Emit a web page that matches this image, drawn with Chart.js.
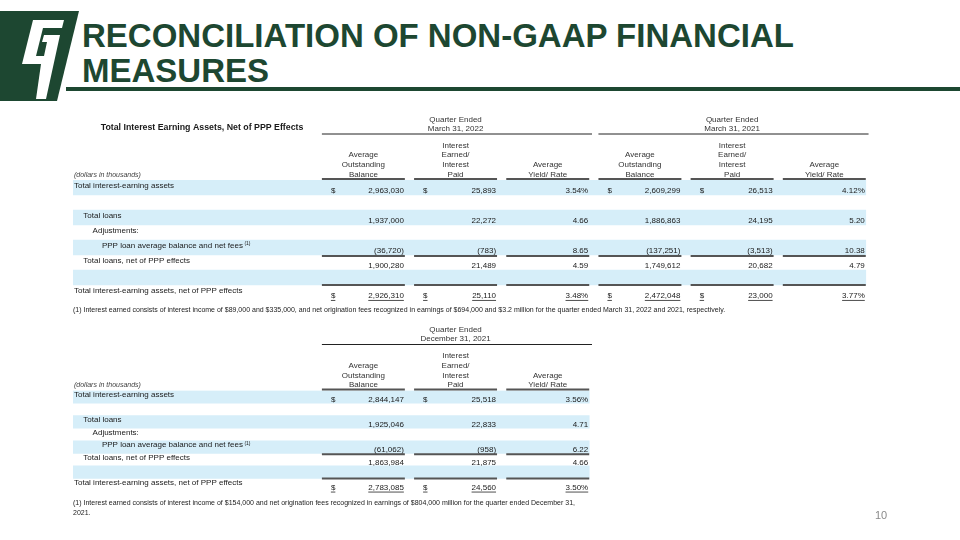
<!DOCTYPE html>
<html>
<head>
<meta charset="utf-8">
<script src="https://cdn.jsdelivr.net/npm/chart.js@4.4.1/dist/chart.umd.min.js"></script>
<style>
  body { margin: 0; width: 960px; height: 540px; background: #fff; position: relative; overflow: hidden;
         font-family: "Liberation Sans", Arial, sans-serif; }
  #logo { position: absolute; left: 0; top: 0; }
  h1 { position: absolute; left: 82px; top: 17.7px; margin: 0; font-size: 33px; line-height: 35px;
       color: #1d4731; font-weight: bold; white-space: nowrap; }
  #rule { position: absolute; left: 66px; top: 87px; width: 894px; height: 4px; background: #1d4731; }
  .box { position: absolute; left: 0; width: 960px; }
  .note { position: absolute; left: 73px; font-size: 7px; line-height: 10px; color: #222; white-space: nowrap; }
  #page { position: absolute; left: 875px; top: 509px; font-size: 11px; color: #8a8a8a; }
</style>
</head>
<body>
<svg id="logo" width="82" height="104" viewBox="0 0 82 104">
  <polygon points="0,11 79,11 57,101 0,101" fill="#1d4731"/>
  <path d="M33 20 L64 20 L62 28 L43 28 L36 56 L44 56 L47 42 L42 42 L44 35 L60 35 L46 99 L36 99 L41 64 L22 64 Z" fill="#fff"/>
</svg>
<h1>RECONCILIATION OF NON-GAAP FINANCIAL<br>MEASURES</h1>
<div id="rule"></div>

<div class="box" style="top:100px;height:210px"><canvas id="topTable" width="960" height="210"></canvas></div>
<div class="note" style="top:305px">(1) Interest earned consists of interest income of $89,000 and $335,000, and net origination fees recognized in earnings of $694,000 and $3.2 million for the quarter ended March 31, 2022 and 2021, respectively.</div>

<div class="box" style="top:310px;height:190px"><canvas id="bottomTable" width="960" height="190"></canvas></div>
<div class="note" style="top:498px">(1) Interest earned consists of interest income of $154,000 and net origination fees recognized in earnings of $804,000 million for the quarter ended December 31,<br>2021.</div>
<div id="page">10</div>

<script>
// rows of both tables (blank strings are the spacer rows)
const rowLabels = [
  'Total interest-earning assets',
  '',
  'Total loans',
  'Adjustments:',
  'PPP loan average balance and net fees',
  'Total loans, net of PPP effects',
  '',
  'Total interest-earning assets, net of PPP effects'
];
const shadedRows = [0, 2, 4, 6];
const totalRows = [0, 7];          // rows with $ and %
const footnoteRow = 4;

// Quarter ended March 31, 2022
const mar22Balance  = [2963030, null, 1937000, null, -36720, 1900280, null, 2926310];
const mar22Interest = [25893, null, 22272, null, -783, 21489, null, 25110];
const mar22Yield    = [3.54, null, 4.66, null, 8.65, 4.59, null, 3.48];
// Quarter ended March 31, 2021
const mar21Balance  = [2609299, null, 1886863, null, -137251, 1749612, null, 2472048];
const mar21Interest = [26513, null, 24195, null, -3513, 20682, null, 23000];
const mar21Yield    = [4.12, null, 5.20, null, 10.38, 4.79, null, 3.77];
// Quarter ended December 31, 2021
const dec21Balance  = [2844147, null, 1925046, null, -61062, 1863984, null, 2783085];
const dec21Interest = [25518, null, 22833, null, -958, 21875, null, 24560];
const dec21Yield    = [3.56, null, 4.71, null, 6.22, 4.66, null, 3.50];

const balanceHead  = ['Average', 'Outstanding', 'Balance'];
const interestHead = ['Interest', 'Earned/', 'Interest', 'Paid'];
const yieldHead    = ['Average', 'Yield/ Rate'];

// layout in column units on the x scale (label area is negative)
const X_MIN = -2.7, X_MAX = 6, COL_W = 0.9;
const indentLevel = [0, 0, 1, 2, 3, 1, 0, 0];
const FONT = '"Liberation Sans", Arial, sans-serif';

function fmt(v, kind, row) {
  if (v === null) return '';
  let s = kind === 'yield' ? Math.abs(v).toFixed(2) : Math.abs(v).toLocaleString('en-US');
  if (kind === 'yield' && totalRows.includes(row)) s += '%';
  return v < 0 ? '(' + s + ')' : s;
}

function hline(ctx, x1, x2, y, w, color) {
  ctx.beginPath();
  ctx.lineWidth = w;
  ctx.strokeStyle = color;
  ctx.moveTo(x1, y);
  ctx.lineTo(x2, y);
  ctx.stroke();
}

const tablePlugin = {
  id: 'tableText',
  afterDatasetsDraw(chart) {
    const t = chart.options.plugins.tableText;
    const { ctx, chartArea } = chart;
    const x = chart.scales.x, y = chart.scales.y;
    const rowH = y.getPixelForValue(1) - y.getPixelForValue(0);
    const top = chartArea.top;
    const rowTop = i => y.getPixelForValue(i) - rowH / 2;
    const left = x.getPixelForValue(X_MIN);
    ctx.save();
    ctx.textBaseline = 'middle';

    if (t.title) {
      ctx.font = 'bold 8.8px ' + FONT;
      ctx.fillStyle = '#1a1a1a';
      ctx.textAlign = 'center';
      ctx.fillText(t.title, x.getPixelForValue(-1.3), top - 52);
    }

    // quarter group headings
    ctx.font = '8px ' + FONT;
    ctx.fillStyle = '#333';
    t.groups.forEach(g => {
      const cx = x.getPixelForValue((g.from + g.to - 0.1) / 2);
      ctx.textAlign = 'center';
      ctx.fillText(g.lines[0], cx, top - 60.5);
      ctx.fillText(g.lines[1], cx, top - 51.5);
      hline(ctx, x.getPixelForValue(g.from), x.getPixelForValue(g.to - 0.07), top - 46, 1, '#222');
    });

    // column headings
    t.columns.forEach((c, i) => {
      const cx = x.getPixelForValue(i + COL_W / 2);
      c.head.forEach((line, k) => {
        ctx.fillText(line, cx, top - 5.5 - (c.head.length - 1 - k) * 9.7);
      });
      hline(ctx, x.getPixelForValue(i), x.getPixelForValue(i + COL_W), top - 1, 2, '#555');
    });
    ctx.font = 'italic 7px ' + FONT;
    ctx.textAlign = 'left';
    ctx.fillStyle = '#444';
    ctx.fillText('(dollars in thousands)', left + 1, top - 5);

    // row labels
    rowLabels.forEach((label, r) => {
      if (!label) return;
      const ly = rowTop(r) + rowH * 0.36;
      const lx = left + 1 + indentLevel[r] * 9.3;
      ctx.font = '8px ' + FONT;
      ctx.fillStyle = '#1a1a1a';
      ctx.textAlign = 'left';
      ctx.fillText(label, lx, ly);
      if (r === footnoteRow) {
        const w = ctx.measureText(label).width;
        ctx.font = '5px ' + FONT;
        ctx.fillText('(1)', lx + w + 1.5, ly - 2);
      }
    });

    // values
    ctx.font = '8px ' + FONT;
    t.columns.forEach((c, i) => {
      const x0 = x.getPixelForValue(i), x1 = x.getPixelForValue(i + COL_W);
      c.values.forEach((v, r) => {
        if (v === null) return;
        const vy = rowTop(r) + rowH * 0.75;
        const s = fmt(v, c.kind, r);
        ctx.fillStyle = '#1a1a1a';
        ctx.textAlign = 'right';
        ctx.fillText(s, x1 - 1, vy);
        const under = r === footnoteRow || r === 7;
        const sw = ctx.measureText(s).width;
        if (under) hline(ctx, x1 - 1 - sw, x1 - 1, vy + 4.2, 0.8, '#222');
        if (c.kind !== 'yield' && totalRows.includes(r)) {
          ctx.textAlign = 'left';
          ctx.fillText('$', x0 + 9, vy);
          if (under) hline(ctx, x0 + 9, x0 + 9 + ctx.measureText('$').width, vy + 4.2, 0.8, '#222');
        }
      });
      hline(ctx, x0, x1, rowTop(footnoteRow) + rowH + 1, 2, '#555');
      hline(ctx, x0, x1, rowTop(7), 2, '#555');
    });
    ctx.restore();
  }
};

function makeTable(id, columns, groups, bandEnd, title) {
  new Chart(document.getElementById(id), {
    type: 'bar',
    data: {
      labels: rowLabels,
      datasets: [{
        data: rowLabels.map((_, r) => shadedRows.includes(r) ? [X_MIN, bandEnd] : null),
        backgroundColor: '#d6eef9',
        borderWidth: 0,
        barPercentage: 1,
        categoryPercentage: 1
      }]
    },
    options: {
      indexAxis: 'y',
      responsive: false,
      animation: false,
      layout: { padding: { left: 73, right: 85, top: id === 'topTable' ? 80 : 80.5, bottom: id === 'topTable' ? 10 : 9 } },
      scales: {
        x: { type: 'linear', min: X_MIN, max: X_MAX, display: false },
        y: { display: false }
      },
      plugins: {
        legend: { display: false },
        tooltip: { enabled: false },
        tableText: { columns, groups, title }
      }
    },
    plugins: [tablePlugin]
  });
}

makeTable('topTable', [
  { head: balanceHead,  values: mar22Balance,  kind: 'money' },
  { head: interestHead, values: mar22Interest, kind: 'money' },
  { head: yieldHead,    values: mar22Yield,    kind: 'yield' },
  { head: balanceHead,  values: mar21Balance,  kind: 'money' },
  { head: interestHead, values: mar21Interest, kind: 'money' },
  { head: yieldHead,    values: mar21Yield,    kind: 'yield' }
], [
  { lines: ['Quarter Ended', 'March 31, 2022'], from: 0, to: 3 },
  { lines: ['Quarter Ended', 'March 31, 2021'], from: 3, to: 6 }
], 5.9, 'Total Interest Earning Assets, Net of PPP Effects');

makeTable('bottomTable', [
  { head: balanceHead,  values: dec21Balance,  kind: 'money' },
  { head: interestHead, values: dec21Interest, kind: 'money' },
  { head: yieldHead,    values: dec21Yield,    kind: 'yield' }
], [
  { lines: ['Quarter Ended', 'December 31, 2021'], from: 0, to: 3 }
], 2.9, null);
</script>
</body>
</html>
